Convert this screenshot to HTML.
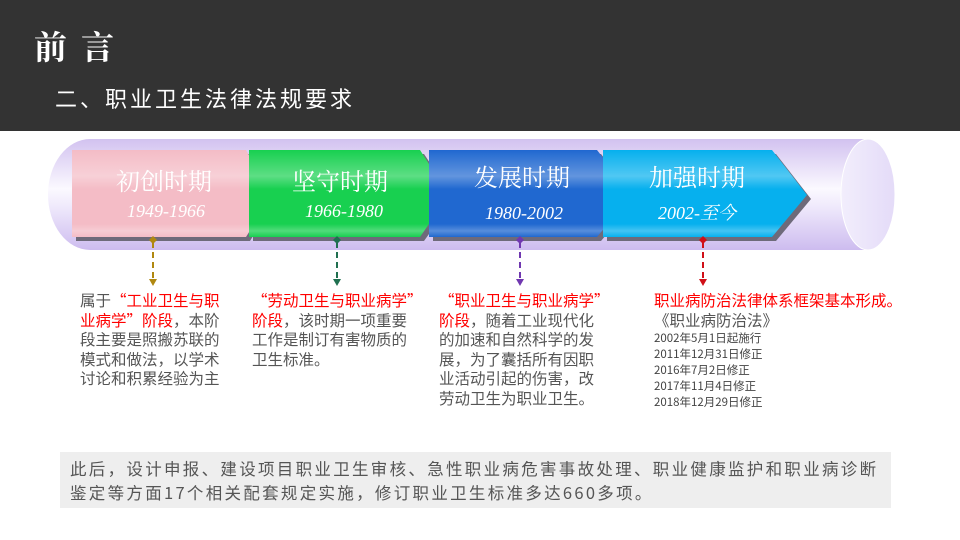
<!DOCTYPE html>
<html><head><meta charset="utf-8"><style>
body{margin:0;width:960px;height:540px;overflow:hidden;background:#fff;font-family:"Noto Sans CJK SC","Liberation Sans",sans-serif;position:relative}
.hdr{position:absolute;left:0;top:0;width:960px;height:131px;background:#333}
.t1{position:absolute;left:34px;top:22px;color:#fff;font-size:33px;font-weight:bold;font-family:"Noto Serif CJK SC","Noto Sans CJK SC",serif;letter-spacing:14px}
.t2{position:absolute;left:55px;top:82px;color:#fff;font-size:22px;letter-spacing:3px}
.tx{position:absolute;font-size:15.5px;line-height:19.5px;color:#555}
.r{color:#f00}
.sm{font-size:11.5px;line-height:16px;color:#444}
.box{position:absolute;left:60px;top:452px;width:831px;height:56px;background:#eeeeee}
.box div{position:absolute;left:10px;top:4px;font-size:16.5px;letter-spacing:2.3px;line-height:24px;color:#555;white-space:nowrap}
svg{position:absolute;left:0;top:0}
</style></head><body>
<div class="hdr"></div>
<div class="t1">前言</div>
<div class="t2">二、职业卫生法律法规要求</div>
<svg width="960" height="540">
<defs>
<linearGradient id="tube" x1="0" y1="0" x2="0" y2="1">
<stop offset="0" stop-color="#d2c2f0"/><stop offset="0.45" stop-color="#fbf9ff"/><stop offset="0.6" stop-color="#f0eafc"/><stop offset="1" stop-color="#cdbcef"/></linearGradient>
<linearGradient id="cap" x1="0" y1="0" x2="1" y2="0"><stop offset="0" stop-color="#f2eefc"/><stop offset="1" stop-color="#e4dbf8"/></linearGradient>
<linearGradient id="gl" x1="0" y1="0" x2="0" y2="1"><stop offset="0" stop-color="#fff" stop-opacity="0"/><stop offset="0.3" stop-color="#fff" stop-opacity="0.3"/><stop offset="0.45" stop-color="#fff" stop-opacity="0"/><stop offset="0.85" stop-color="#fff" stop-opacity="0"/><stop offset="0.93" stop-color="#fff" stop-opacity="0.25"/><stop offset="1" stop-color="#fff" stop-opacity="0"/></linearGradient>
<clipPath id="ar">
<polygon points="72,150 246,150 272,195 246,237 72,237"/>
<polygon points="249,150 420,150 449,195 420,237 249,237"/>
<polygon points="429,150 597,150 632,195 597,237 429,237"/>
<polygon points="603,150 772,150 807,195 772,237 603,237"/>
</clipPath>
</defs>
<path d="M90,139 H868 V250 H90 A42,55.5 0 0 1 90,139 Z" fill="url(#tube)"/>
<ellipse cx="868" cy="194.5" rx="27" ry="55.5" fill="url(#cap)" stroke="#fff" stroke-width="1"/>
<g fill="#6e6a7a">
<polygon points="76,154 250,154 276,199 250,241 76,241"/>
<polygon points="253,154 424,154 454,199 424,241 253,241"/>
<polygon points="433,154 601,154 636,199 601,241 433,241"/>
<polygon points="607,154 776,154 811,199 776,241 607,241"/>
</g>
<polygon points="72,150 246,150 272,195 246,237 72,237" fill="#f4bcc6"/>
<polygon points="249,150 420,150 449,195 420,237 249,237" fill="#18d050"/>
<polygon points="429,150 597,150 632,195 597,237 429,237" fill="#2068d0"/>
<polygon points="603,150 772,150 807,195 772,237 603,237" fill="#06b0ee"/>
<rect x="72" y="150" width="735" height="87" fill="url(#gl)" clip-path="url(#ar)"/>
<g fill="#fff" font-family="Noto Serif CJK SC, serif" text-anchor="middle">
<text x="164" y="190" font-size="24">初创时期</text>
<text x="340" y="190" font-size="24">坚守时期</text>
<text x="522" y="186" font-size="24">发展时期</text>
<text x="697" y="186" font-size="24">加强时期</text>
<g font-family="Liberation Serif, Noto Serif CJK SC, serif" font-style="italic" font-size="18">
<text x="166" y="217">1949-1966</text>
<text x="344" y="217">1966-1980</text>
<text x="524" y="219">1980-2002</text>
<text x="697" y="219">2002-至今</text>
</g></g>
<g stroke-width="2" stroke-dasharray="6,4">
<line x1="153" y1="242" x2="153" y2="278" stroke="#b08810"/>
<line x1="337" y1="242" x2="337" y2="278" stroke="#207050"/>
<line x1="520" y1="242" x2="520" y2="278" stroke="#7038b0"/>
<line x1="703" y1="242" x2="703" y2="278" stroke="#d01018"/>
</g>
<g>
<path d="M153,236 l4,4 l-4,4 l-4,-4z M149,279 h8 l-4,7z" fill="#b08810"/>
<path d="M337,236 l4,4 l-4,4 l-4,-4z M333,279 h8 l-4,7z" fill="#207050"/>
<path d="M520,236 l4,4 l-4,4 l-4,-4z M516,279 h8 l-4,7z" fill="#7038b0"/>
<path d="M703,236 l4,4 l-4,4 l-4,-4z M699,279 h8 l-4,7z" fill="#d01018"/>
</g>
</svg>
<div class="tx" style="left:80px;top:291px;width:150px">属于<span class="r">“工业卫生与职业病学”阶段</span>，本阶段主要是照搬苏联的模式和做法，以学术讨论和积累经验为主</div>
<div class="tx" style="left:252px;top:291px;width:176px"><span class="r">“劳动卫生与职业病学”<br>阶段</span>，该时期一项重要<br>工作是制订有害物质的<br>卫生标准。</div>
<div class="tx" style="left:439px;top:291px;width:176px"><span class="r">“职业卫生与职业病学”<br>阶段</span>，随着工业现代化<br>的加速和自然科学的发<br>展，为了囊括所有因职<br>业活动引起的伤害，改<br>劳动卫生为职业卫生。</div>
<div class="tx" style="left:654px;top:291px;width:290px"><span class="r">职业病防治法律体系框架基本形成。</span><br>《职业病防治法》
<div class="sm">2002年5月1日起施行<br>2011年12月31日修正<br>2016年7月2日修正<br>2017年11月4日修正<br>2018年12月29日修正</div></div>
<div class="box"><div>此后，设计申报、建设项目职业卫生审核、急性职业病危害事故处理、职业健康监护和职业病诊断<br>鉴定等方面17个相关配套规定实施，修订职业卫生标准多达660多项。</div></div>
</body></html>
